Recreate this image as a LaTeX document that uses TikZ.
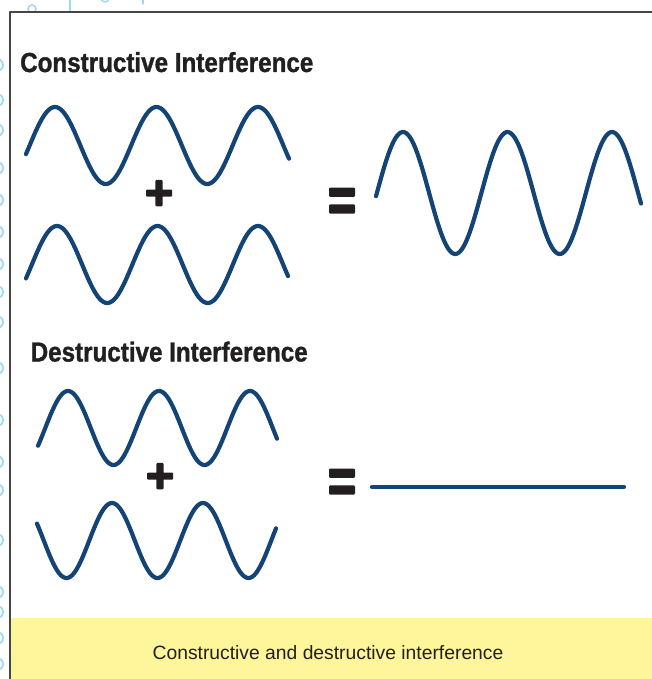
\documentclass[tikz,border=0pt]{standalone}
\usepackage{fontspec}
\setmainfont{Liberation Sans}
\newfontfamily\headfont[FakeStretch=0.88,FakeBold=1.2]{Liberation Sans}
\newfontfamily\signfont[FakeBold=4]{Liberation Sans}
\definecolor{waveblue}{RGB}{20,68,118}
\definecolor{inkblack}{RGB}{35,31,32}
\definecolor{framegray}{RGB}{70,70,70}
\definecolor{capyellow}{RGB}{255,245,155}
\definecolor{edgeblue}{RGB}{160,215,242}

\begin{document}
\begin{tikzpicture}[x=1pt,y=-1pt,line cap=round,line join=round,
  wave/.style={line width=4.2pt,draw=waveblue},
  title/.style={anchor=base west,inner sep=0pt,text=inkblack,font=\headfont\bfseries\fontsize{27.5}{30}\selectfont},
  sign/.style={inner sep=0pt,text=inkblack,font=\signfont\bfseries\fontsize{48}{48}\selectfont}]
  \useasboundingbox (0,0) rectangle (652,679);
  \clip (0,0) rectangle (652,679);
  % Rand der Nachbarseite
  \foreach \y in {65,100,130,168,200,232,264,292,322,368,420,462,490,540,592,612,638,664} {
    \draw[edgeblue,line width=1.8pt] (-3,\y) circle[radius=6];
  }
  \draw[edgeblue,line width=1.6pt] (32,9) circle[radius=4];
  \draw[edgeblue,line width=1.6pt] (70,0) -- (70,11);
  \draw[edgeblue,line width=1.6pt] (105,-2) circle[radius=4];
  \draw[edgeblue,line width=1.6pt] (143,0) -- (143,4);
  % Rahmen und Bildunterschrift
  \fill[white] (10,12) rectangle (652,679);
  \fill[capyellow] (11,618) rectangle (652,679);
  \draw[framegray,line width=1.4pt,line cap=butt] (10,679) -- (10,12) -- (652,12);
  \node[anchor=base,inner sep=0pt,text=inkblack,font=\fontsize{19.3}{22}\selectfont] (caption) at (328,659)
    {Constructive and destructive interference};
  % konstruktiv
  \node[title] (titlecons) at (20,72) {Constructive Interference};
  \draw[wave] plot[domain=26:289,samples=150] (\x,{145.5-38.5*cos((\x-55)/101.5*360)});
  \draw[wave] plot[domain=26:288,samples=150] (\x,{264.5-38.5*cos((\x-57)/100.5*360)});
  \node[sign] (pluscons) at (159,195) {+};
  \node[sign] (eqcons) at (342,205) {\scalebox{1}[1.3]{=}};
  \draw[wave] plot[domain=376:641,samples=150] (\x,{193-61*cos((\x-403)/104.5*360)});
  % destruktiv
  \node[title] (titledest) at (30.5,361.5) {Destructive Interference};
  \draw[wave] plot[domain=38:277,samples=150] (\x,{428-37*cos((\x-68)/91*360)});
  \draw[wave] plot[domain=37:276,samples=150] (\x,{540.5-37.5*cos((\x-112)/91*360)});
  \node[sign] (plusdest) at (160,478) {+};
  \node[sign] (eqdest) at (342,486) {\scalebox{1}[1.3]{=}};
  \draw[wave] (372,487) -- (624,487);
\end{tikzpicture}
\end{document}
